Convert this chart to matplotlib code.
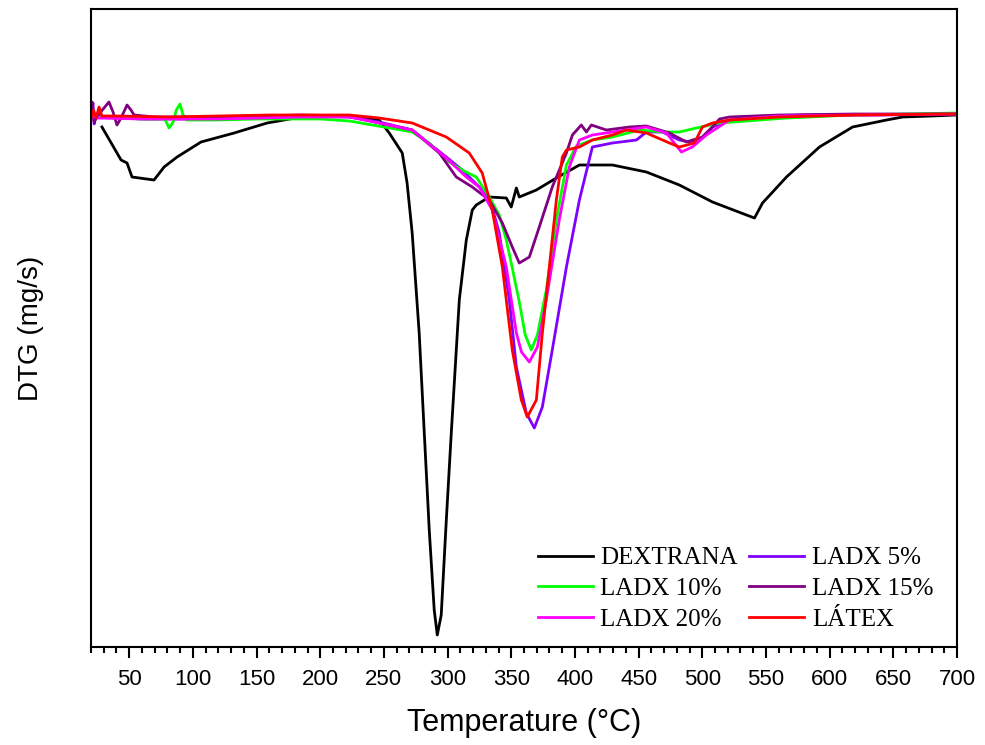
import matplotlib
matplotlib.use('Agg')
import matplotlib.pyplot as plt
from matplotlib.ticker import MultipleLocator

plt.rcParams['font.family'] = 'Liberation Sans'

# DTG curves (temperature in C, arbitrary DTG units)
T_dex = [28.6, 43.6, 48.3, 52.2, 69.5, 77.4, 87.6, 106.4, 132.4, 158.3,
         185, 222.7, 246.3, 254.2, 264.4, 268.2, 272.2, 277.7, 281.7, 285.6, 289.5,
         291.9, 295, 299, 302.9, 309.2, 314.7, 319.4, 322.5, 332.7, 346.1,
         350, 354, 356.3, 369.7, 385.4, 403.5, 429.4, 456.1, 482, 508,
         534.7, 541, 547.3, 566.1, 592, 618, 644.7, 657.3, 680, 700]
y_dex = [-0.011, -0.044, -0.047, -0.061, -0.064, -0.051, -0.041, -0.026, -0.017, -0.007,
         -0.001, 0, -0.004, -0.017, -0.037, -0.067, -0.117, -0.217, -0.317, -0.414, -0.494,
         -0.519, -0.499, -0.404, -0.317, -0.184, -0.124, -0.094, -0.089, -0.081, -0.082,
         -0.091, -0.072, -0.081, -0.074, -0.062, -0.049, -0.049, -0.056, -0.069, -0.086,
         -0.099, -0.102, -0.087, -0.061, -0.031, -0.011, -0.004, -0.001, 0, 0.001]

T_5 = [20.5, 21.5, 22.5, 24, 30, 60, 100, 150, 185, 222.7,
       246.3, 272.2, 299, 311.5, 324.9, 332.7, 340.6, 348.5, 354, 361.8,
       368.1, 374.4, 382.2, 393.3, 403.5, 413.7, 429.4, 448.3, 456.1, 468.7,
       482, 495.4, 508, 521.3, 540, 580, 640, 700]
y_5 = [0, 0.013, -0.008, 0.002, -0.001, -0.003, -0.003, -0.002, 0, -0.001,
       -0.006, -0.014, -0.041, -0.054, -0.071, -0.081, -0.117, -0.184, -0.251, -0.297,
       -0.312, -0.291, -0.234, -0.151, -0.084, -0.031, -0.027, -0.024, -0.016, -0.016,
       -0.024, -0.027, -0.011, -0.004, -0.001, 0.001, 0.001, 0.002]

T_10 = [20.5, 24, 40, 60, 78, 81.3, 84.5, 87, 89.9, 92,
        95, 120, 150, 200, 222.7, 250, 272.2, 285.6, 299, 311.5,
        322.5, 332.7, 340.6, 346.1, 350.8, 356.3, 361, 365.7, 370.5, 377.5,
        385.4, 393.3, 401.1, 413.7, 429.4, 450.6, 468.7, 482, 495.4, 513.5,
        566.1, 618, 660, 700]
y_10 = [0, -0.001, -0.002, -0.003, -0.003, -0.012, -0.006, 0.006, 0.012, 0.002,
        -0.004, -0.004, -0.003, -0.003, -0.005, -0.011, -0.016, -0.027, -0.044, -0.054,
        -0.061, -0.081, -0.099, -0.124, -0.152, -0.186, -0.219, -0.234, -0.219, -0.174,
        -0.104, -0.049, -0.030, -0.024, -0.021, -0.014, -0.016, -0.016, -0.012, -0.007,
        -0.002, 0.001, 0.002, 0.003]

T_15 = [20.5, 20.8, 22.4, 26.3, 30.2, 34.1, 37.3, 40.4, 43.6, 48.3,
        51.4, 53.8, 70, 120, 185, 222.7, 246.3, 272.2, 293.5, 306.8,
        319.4, 332.7, 343, 350.8, 356.3, 364.2, 372, 382.2, 393.3, 398,
        405, 409, 412.9, 424.7, 442.8, 456.1, 474.2, 487.5, 500.1, 508,
        513.5, 521.3, 560, 620, 700]
y_15 = [0, 0.014, -0.006, 0.002, 0.008, 0.014, 0.004, -0.009, -0.002, 0.011,
        0.006, 0.001, -0.001, -0.001, 0.001, 0, -0.007, -0.014, -0.037, -0.061,
        -0.071, -0.084, -0.107, -0.131, -0.147, -0.141, -0.111, -0.071, -0.037, -0.019,
        -0.009, -0.016, -0.009, -0.014, -0.011, -0.010, -0.017, -0.026, -0.021, -0.011,
        -0.003, -0.001, 0.001, 0.002, 0.002]

T_20 = [20.5, 25, 60, 120, 185, 222.7, 246.3, 272.2, 299, 314.7,
        324.9, 335.1, 346.1, 354, 358, 364.2, 370.5, 377.5, 387.7, 395.6,
        403.5, 413.7, 429.4, 456.1, 471.8, 483.6, 492.2, 503.2, 521.3, 560,
        620, 700]
y_20 = [0, -0.002, -0.003, -0.003, -0.001, -0.001, -0.007, -0.014, -0.042, -0.061,
        -0.071, -0.094, -0.151, -0.217, -0.236, -0.246, -0.231, -0.184, -0.104, -0.051,
        -0.024, -0.019, -0.016, -0.011, -0.017, -0.036, -0.031, -0.019, -0.004, 0,
        0.001, 0.002]

T_lat = [20.5, 22, 24, 26.3, 28.6, 40, 80, 120, 160, 200,
         222.7, 246.3, 272.2, 299, 317, 327.2, 335.1, 343, 350.8, 357.9,
         362.6, 369.7, 374.4, 379.9, 385.4, 390.1, 393.3, 403.5, 413.7, 429.4,
         440.4, 456.1, 474.2, 482, 493.8, 500.1, 508, 521.3, 560, 620,
         700]
y_lat = [0, 0.006, -0.002, 0.009, 0, 0, -0.001, 0, 0.001, 0.001,
         0.001, -0.002, -0.007, -0.021, -0.037, -0.057, -0.094, -0.151, -0.234, -0.284,
         -0.301, -0.284, -0.217, -0.151, -0.084, -0.041, -0.034, -0.031, -0.024, -0.019,
         -0.014, -0.017, -0.027, -0.031, -0.027, -0.011, -0.007, -0.004, -0.001, 0.001,
         0.002]

fig = plt.figure(figsize=(9.85, 7.45), dpi=100)
ax = fig.add_axes([91/985, 1 - 647/745, 866/985, 638/745])

lw = 2.0
l_dex, = ax.plot(T_dex, y_dex, color='black', lw=lw, label='DEXTRANA')
l_5, = ax.plot(T_5, y_5, color='#8000FF', lw=lw, label='LADX 5%')
l_10, = ax.plot(T_10, y_10, color='#00FF00', lw=lw, label='LADX 10%')
l_15, = ax.plot(T_15, y_15, color='#800080', lw=lw, label='LADX 15%')
l_20, = ax.plot(T_20, y_20, color='#FF00FF', lw=lw, label='LADX 20%')
l_lat, = ax.plot(T_lat, y_lat, color='#FF0000', lw=lw, label='LÁTEX')

ax.set_xlim(20, 700)
ax.set_ylim(-0.531, 0.107)
ax.xaxis.set_major_locator(MultipleLocator(50))
ax.xaxis.set_minor_locator(MultipleLocator(10))
ax.tick_params(axis='x', which='major', direction='out', length=8, width=1.5, labelsize=16, pad=8)
ax.tick_params(axis='x', which='minor', direction='out', length=4, width=1.5)
ax.set_yticks([])
for s in ax.spines.values():
    s.set_linewidth(1.5)

ax.set_xlabel('Temperature (°C)', fontsize=22, labelpad=13)
ax.set_ylabel('DTG (mg/s)', fontsize=20, labelpad=34)

handles = [l_dex, l_10, l_20, l_5, l_15, l_lat]
ax.legend(handles=handles, ncol=2, frameon=False, loc='upper left',
          bbox_to_anchor=(538/985, 1 - 547/745), bbox_transform=fig.transFigure,
          borderpad=0, borderaxespad=0, handlelength=2.2, handletextpad=0.3,
          columnspacing=0.45, labelspacing=0.32,
          prop={'family': 'Liberation Serif', 'size': 18})

fig.savefig('out.png', dpi=100)
